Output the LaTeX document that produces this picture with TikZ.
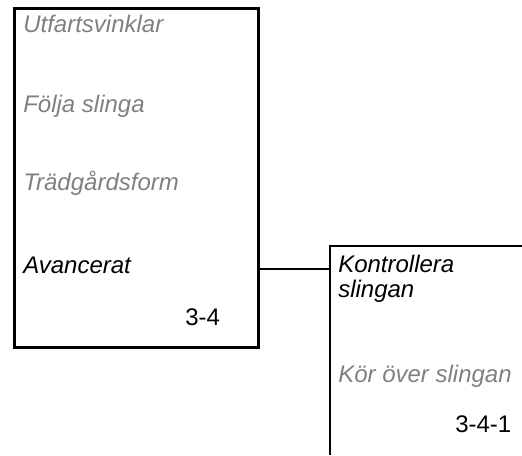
\documentclass[tikz,border=0pt]{standalone}
\usepackage{fontspec}
\setmainfont{Liberation Sans}
\usetikzlibrary{positioning}
\definecolor{mnInk}{HTML}{000000}
\definecolor{mnMuted}{HTML}{808080}
\tikzset{
  mn frame/.style={draw=mnInk, line width=2.2pt},
  mn link/.style={draw=mnInk, line width=1.5pt},
  mn item/.style={
    anchor=base west,
    inner sep=0pt,
    font=\fontsize{18}{20}\selectfont\itshape,
    text=mnInk,
    align=left
  },
  mn item off/.style={mn item, text=mnMuted},
  mn code/.style={
    anchor=base west,
    inner sep=0pt,
    font=\fontsize{18}{20}\selectfont,
    text=mnInk
  }
}
\begin{document}
\begin{tikzpicture}[x=0.75pt,y=-0.75pt]
  \useasboundingbox (0,0) rectangle (522,455);

  \node[mn frame, anchor=north west, inner sep=0pt,
    minimum width=183pt, minimum height=254.25pt] (menu) at (13,7) {};
  \coordinate (submenu) at (330,246);
  \draw[mn frame] (522,246) -- (submenu) -- (330,455);

  \node[mn item off] (exit) at (23,32) {Utfartsvinklar};
  \node[mn item off] (follow) at (23,112) {Följa slinga};
  \node[mn item off] (garden) at (23,190) {Trädgårdsform};
  \node[mn item] (advanced) at (23,273) {Avancerat};
  \node[mn code] (menucode) at (185,325) {3-4};

  \node[mn item, text width=150pt] (check) at (338,272)
    {Kontrollera\\[-1pt]slingan};
  \node[mn item off] (cross) at (338,382) {Kör över slingan};
  \node[mn code] (subcode) at (455,432) {3-4-1};

  \coordinate (join) at (submenu |- advanced.mid);
  \draw[mn link] (advanced.mid -| menu.east) -- (join);
\end{tikzpicture}
\end{document}
